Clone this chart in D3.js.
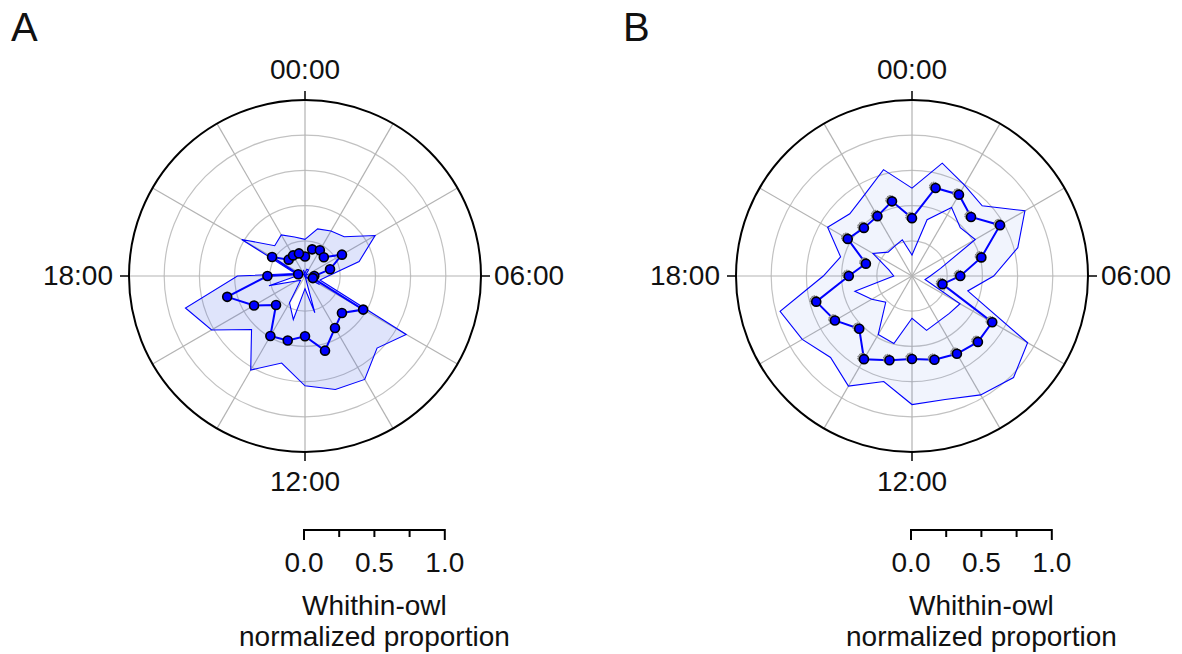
<!DOCTYPE html>
<html><head><meta charset="utf-8">
<script src="https://cdn.jsdelivr.net/npm/d3@7"></script>
<style>
body{margin:0;background:#fff}
svg{display:block}
text{font-family:"Liberation Sans",Arial,Helvetica,sans-serif;fill:#111}
</style>
</head><body>
<svg id="chart" width="1182" height="654"></svg>
<script>
// ---------- data ----------
const hours = [0,1,2,3,4,5,6,7,8,9,10,11,12,13,14,15,16,17,18,19,20,21,22,23];

const meanA  = [0.139,0.196,0.211,0.189,0.303,0.184,0.066,0.058,0.477,0.371,0.426,0.549,0.428,0.474,0.492,0.291,0.418,0.572,0.267,0.050,0.270,0.164,0.169,0.166];
const upperA = [0.260,0.346,0.369,0.394,0.575,0.398,0.165,0.110,0.830,0.724,0.848,0.834,0.780,0.640,0.771,0.537,0.766,0.879,0.480,0.070,0.519,0.304,0.337,0.287];
const lowerA = [0.020,0.050,0.050,0.000,0.030,0.000,0.000,0.000,0.120,0.020,0.000,0.270,0.090,0.320,0.220,0.045,0.070,0.265,0.060,0.030,0.020,0.020,0.000,0.045];

const meanB  = [0.411,0.647,0.667,0.593,0.722,0.510,0.343,0.224,0.658,0.662,0.638,0.616,0.589,0.619,0.682,0.530,0.632,0.704,0.449,0.339,0.527,0.483,0.491,0.549];
const upperB = [0.624,0.830,0.746,0.705,0.926,0.778,0.580,0.410,0.948,1.020,0.975,0.908,0.913,0.776,0.903,0.818,0.900,0.970,0.630,0.525,0.692,0.625,0.670,0.782];
const lowerB = [0.149,0.414,0.562,0.485,0.519,0.210,0.130,0.096,0.394,0.375,0.374,0.400,0.300,0.497,0.480,0.264,0.330,0.420,0.130,0.170,0.320,0.240,0.245,0.266];

const clockHours  = [0, 6, 12, 18];
const clockLabels = ["00:00", "06:00", "12:00", "18:00"];
const spokeHours  = [0,2,4,6,8,10,12,14,16,18,20,22];
const ringValues  = [0.25, 0.5, 0.75, 1.0];
const outerValue  = 1.25;
const scaleTicks  = [0, 0.25, 0.5, 0.75, 1.0];
const scaleLabelValues = [0, 0.5, 1.0];
const scaleLabels = ["0.0", "0.5", "1.0"];
const axisTitle   = ["Whithin-owl", "normalized proportion"];
const panelLetters = ["A", "B"];

// ---------- layout ----------
const svg = d3.select("#chart");
const R = 176;
const FS = 28;
const rScale = d3.scaleLinear().domain([0, outerValue]).range([0, R]);
const ang = d3.scaleLinear().domain([0, 24]).range([0, 2 * Math.PI]);
const BLUE = "#0000ff";

function px(h, v) { return Math.sin(ang(h)) * rScale(v); }
function py(h, v) { return -Math.cos(ang(h)) * rScale(v); }

function drawPanel(cx, cy, letter, letterX, mean, upper, lower, fillOp, ghost) {
  svg.append("text").attr("x", letterX).attr("y", 41)
    .attr("font-size", 40).text(letter);

  const g = svg.append("g").attr("transform", `translate(${cx},${cy})`);

  // rings
  g.selectAll(".ring").data(ringValues).join("circle")
    .attr("r", d => rScale(d)).attr("fill", "none")
    .attr("stroke", "#c2c2c2").attr("stroke-width", 1.2);
  // spokes
  g.selectAll(".spoke").data(spokeHours).join("line")
    .attr("x1", 0).attr("y1", 0)
    .attr("x2", d => px(d, outerValue)).attr("y2", d => py(d, outerValue))
    .attr("stroke", "#b3b3b3").attr("stroke-width", 1.2);

  // band
  const radial = d3.lineRadial()
    .angle((d, i) => ang(hours[i]))
    .radius(d => rScale(d))
    .curve(d3.curveLinearClosed);
  g.append("path")
    .attr("d", radial(upper) + radial(lower))
    .attr("fill", "#3f5fe8").attr("fill-opacity", fillOp)
    .attr("fill-rule", "evenodd")
    .attr("stroke", BLUE).attr("stroke-width", 1.1);

  // outer circle + cardinal ticks
  g.append("circle").attr("r", rScale(outerValue))
    .attr("fill", "none").attr("stroke", "#000").attr("stroke-width", 2);
  g.selectAll(".ctick").data(clockHours).join("line")
    .attr("x1", d => px(d, outerValue)).attr("y1", d => py(d, outerValue))
    .attr("x2", d => Math.sin(ang(d)) * (R + 9)).attr("y2", d => -Math.cos(ang(d)) * (R + 9))
    .attr("stroke", "#000").attr("stroke-width", 1.5);

  // clock labels
  const lpos = [
    {x: 0, y: -R - 21, a: "middle"},
    {x: R + 13, y: 9, a: "start"},
    {x: 0, y: R + 39, a: "middle"},
    {x: -R - 16, y: 9, a: "end"}
  ];
  g.selectAll(".clab").data(clockLabels).join("text")
    .attr("x", (d, i) => lpos[i].x).attr("y", (d, i) => lpos[i].y)
    .attr("text-anchor", (d, i) => lpos[i].a)
    .attr("font-size", FS).text(d => d);

  // mean line
  g.append("path").attr("d", radial(mean))
    .attr("fill", "none").attr("stroke", BLUE).attr("stroke-width", 2);

  if (ghost) {
    g.selectAll(".ghost").data(mean).join("circle")
      .attr("cx", (d, i) => px(hours[i], d) - 1.6)
      .attr("cy", (d, i) => py(hours[i], d) - 1.2)
      .attr("r", 4.6).attr("fill", "#aaa").attr("stroke", "#666")
      .attr("stroke-width", 1).attr("stroke-dasharray", "1.5,1");
  }
  g.selectAll(".pt").data(mean).join("circle")
    .attr("cx", (d, i) => px(hours[i], d))
    .attr("cy", (d, i) => py(hours[i], d))
    .attr("r", 4.5).attr("fill", BLUE)
    .attr("stroke", "#000").attr("stroke-width", 1.6);

  // scale bar
  const sx = d3.scaleLinear().domain([0, 1]).range([cx - 1, cx - 1 + rScale(1)]);
  const sb = svg.append("g");
  const yb = 530;
  sb.append("line").attr("x1", sx(0)).attr("x2", sx(1)).attr("y1", yb).attr("y2", yb)
    .attr("stroke", "#000").attr("stroke-width", 2);
  sb.selectAll(".st").data(scaleTicks).join("line")
    .attr("x1", d => sx(d)).attr("x2", d => sx(d))
    .attr("y1", yb - 1).attr("y2", (d, i) => yb + ((i === 0 || i === scaleTicks.length - 1) ? 10 : 7))
    .attr("stroke", "#000").attr("stroke-width", 2);
  sb.selectAll(".sl").data(scaleLabelValues).join("text")
    .attr("x", d => sx(d)).attr("y", 572).attr("text-anchor", "middle")
    .attr("font-size", FS).text((d, i) => scaleLabels[i]);
  sb.selectAll(".tt").data(axisTitle).join("text")
    .attr("x", sx(0.5)).attr("y", (d, i) => 615 + i * 31)
    .attr("text-anchor", "middle").attr("font-size", FS).text(d => d);
}

drawPanel(305, 276, panelLetters[0], 11, meanA, upperA, lowerA, 0.17, false);
drawPanel(912, 276, panelLetters[1], 623, meanB, upperB, lowerB, 0.07, true);
</script>
</body></html>
